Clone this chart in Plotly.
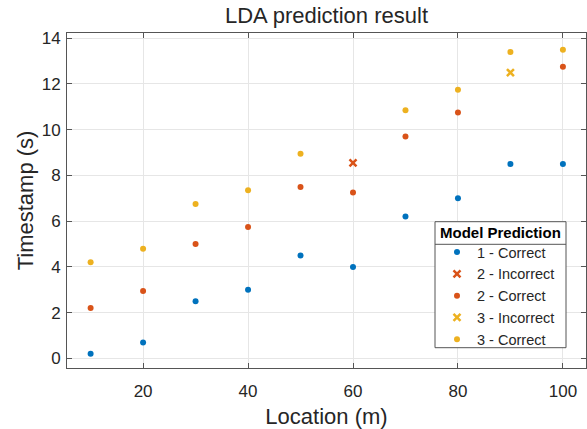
import plotly.graph_objects as go

# Location (m) for each test point
locations = [10, 20, 30, 40, 50, 60, 70, 80, 90, 100]

# Class 1: all predictions correct
c1_correct_x = [10, 20, 30, 40, 50, 60, 70, 80, 90, 100]
c1_correct_y = [0.2, 0.7, 2.5, 3.0, 4.5, 4.0, 6.2, 7.0, 8.5, 8.5]

# Class 2
c2_incorrect_x = [60]
c2_incorrect_y = [8.55]
c2_correct_x = [10, 20, 30, 40, 50, 60, 70, 80, 100]
c2_correct_y = [2.2, 2.95, 5.0, 5.75, 7.5, 7.25, 9.7, 10.75, 12.75]

# Class 3
c3_incorrect_x = [90]
c3_incorrect_y = [12.5]
c3_correct_x = [10, 20, 30, 40, 50, 70, 80, 90, 100]
c3_correct_y = [4.2, 4.8, 6.75, 7.35, 8.95, 10.85, 11.75, 13.4, 13.5]

x_ticks = [20, 40, 60, 80, 100]
y_ticks = [0, 2, 4, 6, 8, 10, 12, 14]

BLUE = "#0072BD"
RED = "#D95319"
YELLOW = "#EDB120"
INK = "#262626"
EDGE = "#555555"
FONT = "Liberation Sans"

# Plot-area geometry in pixels, used to place the legend frame in paper units
W, H = 587, 429
L, R, T, B = 67, 1, 33, 61
PW, PH = W - L - R, H - T - B

def px_x(px):
    return (px - L) / PW

def px_y(py):
    return (H - B - py) / PH

fig = go.Figure()

def dots(x, y, color, name):
    fig.add_trace(go.Scatter(x=x, y=y, mode="markers", name=name,
                             marker=dict(symbol="circle", size=6, color=color,
                                         line=dict(width=0))))

def crosses(x, y, color, name):
    fig.add_trace(go.Scatter(x=x, y=y, mode="markers", name=name,
                             marker=dict(symbol="x-thin", size=7, color=color,
                                         line=dict(width=2.5, color=color))))

dots(c1_correct_x, c1_correct_y, BLUE, "1 - Correct")
crosses(c2_incorrect_x, c2_incorrect_y, RED, "2 - Incorrect")
dots(c2_correct_x, c2_correct_y, RED, "2 - Correct")
crosses(c3_incorrect_x, c3_incorrect_y, YELLOW, "3 - Incorrect")
dots(c3_correct_x, c3_correct_y, YELLOW, "3 - Correct")

axis_common = dict(
    showline=True, linecolor=EDGE, linewidth=1, mirror="ticks",
    ticks="inside", ticklen=5, tickcolor=EDGE, tickwidth=1,
    showgrid=True, gridcolor="#e6e6e6", gridwidth=1, zeroline=False,
    tickfont=dict(family=FONT, size=17, color=INK),
)

fig.update_xaxes(range=[5.5, 104.4], tickvals=x_ticks, ticklabelstandoff=8,
                 title=dict(text="Location (m)", font=dict(family=FONT, size=22, color=INK),
                            standoff=8),
                 **axis_common)
fig.update_yaxes(range=[-0.42, 14.23], tickvals=y_ticks, ticklabelstandoff=2,
                 title=dict(text="Timestamp (s)", font=dict(family=FONT, size=22, color=INK),
                            standoff=1),
                 **axis_common)

# Legend frame: outer box with a titled header row
box_l, box_r, box_t, box_b, header_b = 435, 566, 221.7, 347.7, 244.3
fig.add_shape(type="rect", xref="paper", yref="paper", layer="above",
              x0=px_x(box_l), x1=px_x(box_r), y0=px_y(box_b), y1=px_y(box_t),
              fillcolor="white", line=dict(color=EDGE, width=1))
fig.add_shape(type="line", xref="paper", yref="paper", layer="above",
              x0=px_x(box_l), x1=px_x(box_r), y0=px_y(header_b), y1=px_y(header_b),
              line=dict(color=EDGE, width=1))
fig.add_annotation(text="<b>Model Prediction</b>", xref="paper", yref="paper",
                   x=px_x((box_l + box_r) / 2), y=px_y((box_t + header_b) / 2),
                   xanchor="center", yanchor="middle", showarrow=False,
                   font=dict(family=FONT, size=15, color="black"))

fig.update_layout(
    width=W, height=H,
    margin=dict(l=L, r=R, t=T, b=B),
    paper_bgcolor="white", plot_bgcolor="white",
    font=dict(family=FONT, color=INK),
    title=dict(text="LDA prediction result", x=(326.5) / W, xanchor="center",
               y=1 - 8 / H, yanchor="top", yref="container",
               font=dict(family=FONT, size=22, color=INK)),
    showlegend=True,
    legend=dict(
        x=px_x(box_l + 2), xanchor="left",
        y=px_y((header_b + box_b) / 2), yanchor="middle",
        bgcolor="rgba(0,0,0,0)", borderwidth=0,
        font=dict(family=FONT, size=14.5, color=INK),
        tracegroupgap=0, itemwidth=30,
    ),
)

fig.write_html("out.html")
